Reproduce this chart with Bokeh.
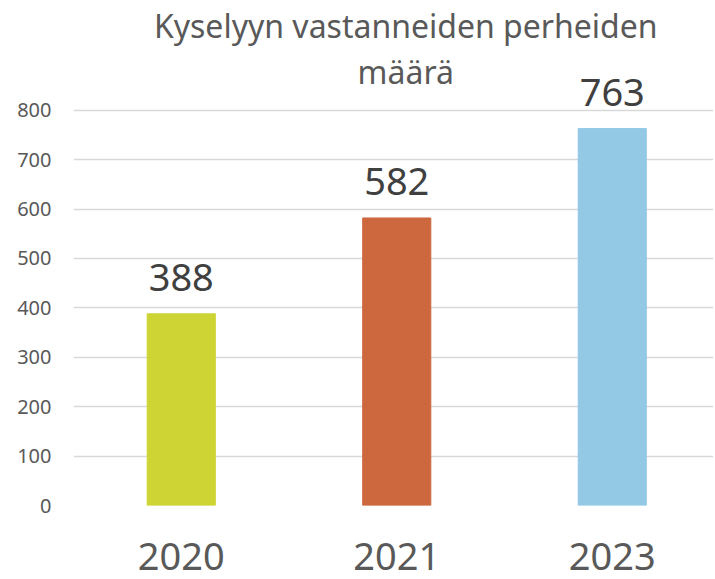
from bokeh.plotting import figure
from bokeh.models import ColumnDataSource, FixedTicker, Range1d, LabelSet, Label
from bokeh.core.properties import value
from bokeh.embed import file_html
from bokeh.resources import INLINE

years = ["2020", "2021", "2023"]
counts = [388, 582, 763]
colors = ["#CDD433", "#CD683E", "#93C9E5"]
y_ticks = [0, 100, 200, 300, 400, 500, 600, 700, 800]
title_lines = ["Kyselyyn vastanneiden perheiden", "määrä"]

idx = list(range(len(years)))
src = ColumnDataSource(dict(x=idx, top=counts, color=colors,
                            label=[str(c) for c in counts]))

FONT = "Noto Sans"
W, H = 713, 579
TOP = 1006
p = figure(width=W, height=H, output_backend="svg", toolbar_location=None,
           x_range=Range1d(-0.5, -0.5 + 640 / 215.5),
           y_range=Range1d(0, TOP),
           min_border_left=73, min_border_right=0, min_border_top=8,
           min_border_bottom=74)
p.outline_line_color = None
p.background_fill_color = "white"
p.border_fill_color = "white"

p.vbar(x="x", top="top", width=0.316, color="color", source=src)

labels = LabelSet(x="x", y="top", text="label", source=src,
                  text_align="center", text_baseline="alphabetic",
                  y_offset=23, text_font=value(FONT), text_font_size="38px",
                  text_color="#404040")
p.add_layout(labels)

for i, t in enumerate(title_lines):
    lab = Label(x=1, y=TOP, x_offset=9, y_offset=-(17 + 46 * i), text=t,
                text_align="center", text_baseline="alphabetic",
                text_font=FONT, text_font_size="32px", text_color="#595959")
    p.add_layout(lab)

p.ygrid.ticker = FixedTicker(ticks=y_ticks)
p.ygrid.grid_line_color = "#D9D9D9"
p.ygrid.grid_line_width = 1.3
p.xgrid.grid_line_color = None

p.yaxis.ticker = FixedTicker(ticks=y_ticks)
p.yaxis.axis_line_color = None
p.yaxis.major_tick_line_color = None
p.yaxis.minor_tick_line_color = None
p.yaxis.major_tick_out = 0
p.yaxis.major_label_standoff = 22
p.yaxis.major_label_text_font = FONT
p.yaxis.major_label_text_font_size = "20px"
p.yaxis.major_label_text_color = "#595959"

p.xaxis.ticker = FixedTicker(ticks=idx)
p.xaxis.major_label_overrides = {i: y for i, y in zip(idx, years)}
p.xaxis.axis_line_color = None
p.xaxis.major_tick_line_color = None
p.xaxis.minor_tick_line_color = None
p.xaxis.major_tick_out = 0
p.xaxis.major_label_standoff = 37
p.xaxis.major_label_text_font = FONT
p.xaxis.major_label_text_font_size = "38px"
p.xaxis.major_label_text_color = "#595959"

open("out.html", "w").write(file_html(p, INLINE))
